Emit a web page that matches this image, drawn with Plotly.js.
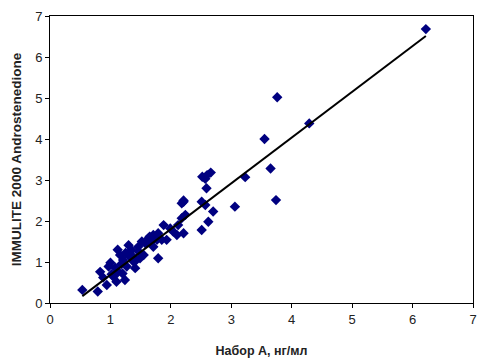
<!DOCTYPE html>
<html>
<head>
<meta charset="utf-8">
<script src="https://cdn.plot.ly/plotly-3.0.1.min.js"></script>
<style>html,body{margin:0;padding:0;background:#fff;}#chart{width:477px;height:360px;}</style>
</head>
<body>
<div id="chart"></div>
<script>
// Набор А (x) vs IMMULITE 2000 Androstenedione (y), ng/ml
const xValues = [
  0.535, 0.79, 0.83, 0.94, 0.97, 1.05, 1.10, 1.13, 1.16, 1.21, 1.24, 1.27, 1.30, 1.35, 1.38, 1.41,
  1.46, 1.49, 1.52, 1.32, 1.43, 1.55, 1.63, 1.68, 1.71, 1.71, 1.77, 1.79, 1.79, 1.85, 1.88, 1.93,
  1.99, 2.04, 2.10, 2.12, 2.18, 2.18, 2.21, 2.21, 2.24, 2.21, 2.51, 2.51, 2.57, 2.59, 2.62, 2.70,
  2.52, 2.60, 2.66, 2.57, 1.00, 1.08, 1.18, 1.25, 1.12, 1.02, 0.88, 1.36, 1.58, 1.47, 1.65, 1.20,
  3.06, 3.23, 3.55, 3.65, 3.74, 3.76, 4.29, 6.22
];
const yValues = [
  0.32, 0.28, 0.76, 0.44, 0.89, 0.64, 0.52, 0.76, 1.17, 1.05, 0.56, 0.89, 1.41, 1.29, 1.01, 0.85,
  1.37, 1.09, 1.50, 1.13, 1.05, 1.17, 1.58, 1.50, 1.66, 1.37, 1.54, 1.70, 1.09, 1.54, 1.90, 1.54,
  1.82, 1.74, 1.66, 1.90, 2.07, 2.43, 2.47, 1.70, 2.15, 2.50, 2.47, 1.78, 2.39, 2.80, 1.98, 2.23,
  3.08, 3.12, 3.18, 3.03, 0.98, 0.86, 0.95, 1.22, 1.30, 0.70, 0.62, 1.15, 1.45, 1.25, 1.62, 0.72,
  2.35, 3.07, 4.00, 3.28, 2.51, 5.02, 4.38, 6.68
];
// regression line parameters
const fitSlope = 1.116;
const fitIntercept = -0.43;

const xTickVals = [0, 1, 2, 3, 4, 5, 6, 7];
const yTickVals = [0, 1, 2, 3, 4, 5, 6, 7];
const xTitle = "Набор А, нг/мл";
const yTitle = "IMMULITE 2000 Androstenedione";

const xMin = Math.min(...xValues), xMax = Math.max(...xValues);
const fitX = [xMin, xMax];
const fitY = fitX.map(v => fitSlope * v + fitIntercept);

const traces = [
  {
    x: xValues, y: yValues, type: 'scatter', mode: 'markers',
    marker: {symbol: 'diamond', size: 8, color: '#000080', line: {width: 0}},
    hoverinfo: 'skip', cliponaxis: false
  },
  {
    x: fitX, y: fitY, type: 'scatter', mode: 'lines',
    line: {color: '#000000', width: 2}, hoverinfo: 'skip'
  }
];

const fam = '"Liberation Sans", Arial, sans-serif';
const tickFont = {family: fam, size: 13, color: '#222'};

const layout = {
  width: 477, height: 360,
  margin: {l: 50, r: 4, t: 16, b: 57},
  paper_bgcolor: '#fff', plot_bgcolor: '#fff',
  showlegend: false,
  xaxis: {
    range: [0, 7], tickvals: xTickVals, ticktext: xTickVals.map(String),
    showgrid: false, zeroline: false, showline: true, linecolor: '#000', linewidth: 1, mirror: true,
    ticks: 'outside', ticklen: 4, tickcolor: '#000', tickfont: tickFont,
    title: {text: xTitle, font: {family: fam, size: 12.5, color: '#222', weight: 'bold'}, standoff: 20},
    automargin: false
  },
  yaxis: {
    range: [0, 7], tickvals: yTickVals, ticktext: yTickVals.map(String),
    showgrid: false, zeroline: false, showline: true, linecolor: '#000', linewidth: 1, mirror: true,
    ticks: 'outside', ticklen: 4, tickcolor: '#000', tickfont: tickFont,
    title: {text: yTitle, font: {family: fam, size: 13.5, color: '#222', weight: 'bold'}, standoff: 10},
    automargin: false
  }
};

Plotly.newPlot('chart', traces, layout, {staticPlot: true, displayModeBar: false});
</script>
</body>
</html>
